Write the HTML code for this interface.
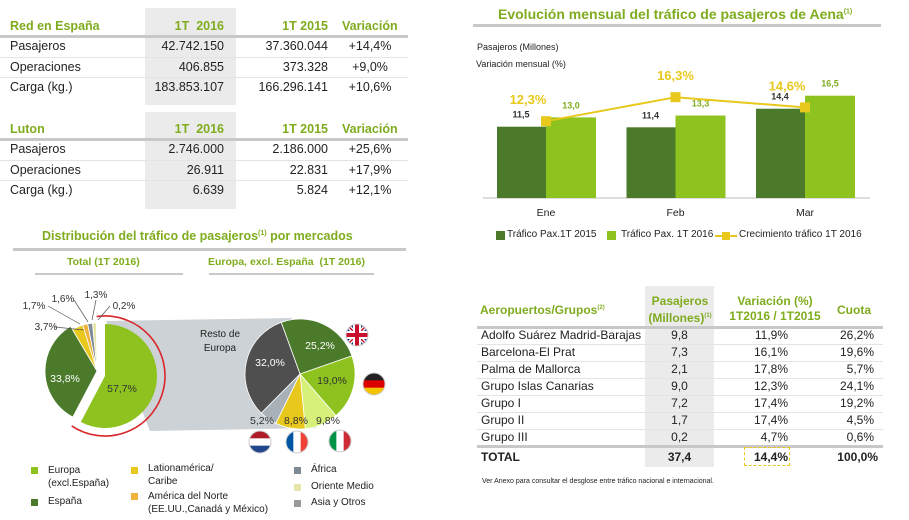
<!DOCTYPE html>
<html><head><meta charset="utf-8"><style>
body{margin:0;width:909px;height:520px;background:#fff;font-family:"Liberation Sans",sans-serif;position:relative;overflow:hidden;color:#222}
.a{position:absolute;white-space:nowrap}
.g{color:#7fac1e;font-weight:bold}
.band{position:absolute;background:#ebebeb}
.hl{position:absolute;height:3px;background:#c8c8c8}
.rl{position:absolute;height:1px;background:#e4e4e4}
.t{font-size:12.5px}
.r{text-align:right}
.c{text-align:center}
</style></head><body>
<div class="band" style="left:145px;top:8px;width:91px;height:97px"></div>
<div class="band" style="left:145px;top:112px;width:91px;height:97px"></div>
<div>
<div class="a g t" style="left:10px;top:19px">Red en España</div>
<div class="a g t r" style="left:150px;top:19px;width:74px">1T&nbsp; 2016</div>
<div class="a g t r" style="left:250px;top:19px;width:78px">1T 2015</div>
<div class="a g t" style="left:342px;top:19px">Variación</div>
<div class="hl" style="left:0;top:35px;width:408px"></div>
<div class="a t" style="left:10px;top:39px">Pasajeros</div><div class="a t r" style="left:130px;top:39px;width:94px">42.742.150</div><div class="a t r" style="left:230px;top:39px;width:98px">37.360.044</div><div class="a t c" style="left:340px;top:39px;width:60px">+14,4%</div>
<div class="rl" style="left:0;top:57px;width:408px"></div>
<div class="a t" style="left:10px;top:60px">Operaciones</div><div class="a t r" style="left:130px;top:60px;width:94px">406.855</div><div class="a t r" style="left:230px;top:60px;width:98px">373.328</div><div class="a t c" style="left:340px;top:60px;width:60px">+9,0%</div>
<div class="rl" style="left:0;top:77px;width:408px"></div>
<div class="a t" style="left:10px;top:80px">Carga (kg.)</div><div class="a t r" style="left:130px;top:80px;width:94px">183.853.107</div><div class="a t r" style="left:230px;top:80px;width:98px">166.296.141</div><div class="a t c" style="left:340px;top:80px;width:60px">+10,6%</div>
</div>
<div>
<div class="a g t" style="left:10px;top:122px">Luton</div>
<div class="a g t r" style="left:150px;top:122px;width:74px">1T&nbsp; 2016</div>
<div class="a g t r" style="left:250px;top:122px;width:78px">1T 2015</div>
<div class="a g t" style="left:342px;top:122px">Variación</div>
<div class="hl" style="left:0;top:138px;width:408px"></div>
<div class="a t" style="left:10px;top:142px">Pasajeros</div><div class="a t r" style="left:130px;top:142px;width:94px">2.746.000</div><div class="a t r" style="left:230px;top:142px;width:98px">2.186.000</div><div class="a t c" style="left:340px;top:142px;width:60px">+25,6%</div>
<div class="rl" style="left:0;top:160px;width:408px"></div>
<div class="a t" style="left:10px;top:163px">Operaciones</div><div class="a t r" style="left:130px;top:163px;width:94px">26.911</div><div class="a t r" style="left:230px;top:163px;width:98px">22.831</div><div class="a t c" style="left:340px;top:163px;width:60px">+17,9%</div>
<div class="rl" style="left:0;top:180px;width:408px"></div>
<div class="a t" style="left:10px;top:183px">Carga (kg.)</div><div class="a t r" style="left:130px;top:183px;width:94px">6.639</div><div class="a t r" style="left:230px;top:183px;width:98px">5.824</div><div class="a t c" style="left:340px;top:183px;width:60px">+12,1%</div>
</div>

<div class="a g" style="left:498px;top:6px;font-size:14px">Evolución mensual del tráfico de pasajeros de Aena<sup style="font-size:7px">(1)</sup></div>
<div class="hl" style="left:473px;top:24px;width:408px"></div>
<div class="a" style="left:477px;top:42px;font-size:9px">Pasajeros (Millones)</div>
<div class="a" style="left:476px;top:59px;font-size:9px">Variación mensual (%)</div>
<svg id="bar" style="position:absolute;left:0;top:0" width="909" height="260"></svg>
<div>
<div class="a" style="left:496px;top:231px;width:9px;height:9px;background:#4a7a2a"></div>
<div class="a" style="left:507px;top:229px;font-size:10px">Tráfico Pax.1T 2015</div>
<div class="a" style="left:607px;top:231px;width:9px;height:9px;background:#8dc21f"></div>
<div class="a" style="left:621px;top:229px;font-size:10px">Tráfico Pax. 1T 2016</div>
<div class="a" style="left:715px;top:235px;width:22px;height:2px;background:#e8c81c"></div>
<div class="a" style="left:722px;top:232px;width:8px;height:8px;background:#e8c81c"></div>
<div class="a" style="left:739px;top:229px;font-size:10px">Crecimiento tráfico 1T 2016</div>
</div>
<script>
const months=["Ene","Feb","Mar"];
const pax2015=[11.5,11.4,14.4];
const pax2016=[13.0,13.3,16.5];
const growth=[12.3,16.3,14.6];
const growthLabels=["12,3%","16,3%","14,6%"];
const ns="http://www.w3.org/2000/svg";
const svg=document.getElementById('bar');
const base=198,ppu=6.2;
const yv=v=>base-v*ppu;
const yg=v=>195-6*v;
const cx=i=>546+i*129.5;
function mk(t,a){const e=document.createElementNS(ns,t);for(const k in a)e.setAttribute(k,a[k]);svg.appendChild(e);return e;}
function fmt(v){return v.toFixed(1).replace('.',',');}
mk('line',{x1:483,y1:base,x2:870,y2:base,stroke:'#bbb','stroke-width':1});
months.forEach((m,i)=>{
 let r=mk('rect',{x:cx(i)-49,y:yv(pax2015[i]),width:49,height:pax2015[i]*ppu,fill:'#4a7a2a'});
 
 
 r=mk('rect',{x:cx(i),y:yv(pax2016[i]),width:50,height:pax2016[i]*ppu,fill:'#8dc21f'});
 
 
 let t=mk('text',{x:cx(i)-25,y:yv(pax2015[i])-9,'font-size':9,'font-weight':'bold','text-anchor':'middle',fill:'#333','font-family':'Liberation Sans'});t.textContent=fmt(pax2015[i]);
 t=mk('text',{x:cx(i)+25,y:yv(pax2016[i])-9,'font-size':9,'font-weight':'bold','text-anchor':'middle',fill:'#7fac1e','font-family':'Liberation Sans'});t.textContent=fmt(pax2016[i]);
 t=mk('text',{x:cx(i),y:216,'font-size':10.5,'text-anchor':'middle',fill:'#222','font-family':'Liberation Sans'});t.textContent=m;
 
 
});
let pts=growth.map((v,i)=>cx(i)+','+yg(v)).join(' ');
let pl=mk('polyline',{points:pts,fill:'none',stroke:'#e8c81c','stroke-width':2});


growth.forEach((v,i)=>{
 let s=mk('rect',{x:cx(i)-5,y:yg(v)-5,width:10,height:10,fill:'#e8c81c'});
 
 
 let t=mk('text',{x:cx(i)-(i==1?0:18),y:yg(v)-17,'font-size':13,'font-weight':'bold','text-anchor':'middle',fill:'#e8c81c','font-family':'Liberation Sans'});t.textContent=growthLabels[i];
});
</script>

<div class="a g" style="left:42px;top:229px;font-size:12.5px">Distribución del tráfico de pasajeros<sup style="font-size:7px">(1)</sup> por mercados</div>
<div class="hl" style="left:13px;top:248px;width:393px"></div>
<div class="a g" style="left:67px;top:256px;font-size:10.5px">Total (1T 2016)</div>
<div class="hl" style="left:35px;top:273px;width:148px;height:2px"></div>
<div class="a g" style="left:208px;top:256px;font-size:10.5px">Europa, excl. España&nbsp; (1T 2016)</div>
<div class="hl" style="left:209px;top:273px;width:165px;height:2px"></div>
<svg id="pies" style="position:absolute;left:0;top:0" width="909" height="520"></svg>
<script>
const totalLabels=["Europa","España","Latinoamérica","América del Norte","África","Oriente Medio","Asia y Otros"];
const totalShares=[57.7,33.8,3.7,1.7,1.6,1.3,0.2];
const totalColors=["#8dc21f","#4a7a2a","#e8c81c","#f0b43c","#7d8a96","#e6e6a8","#9a9a9a"];
const euLabels=["Reino Unido","Alemania","Italia","Francia","Holanda","Resto de Europa"];
const euShares=[25.2,19.0,9.8,8.8,5.2,32.0];
const euColors=["#4a7a2a","#8dc21f","#d6f07a","#e8c81c","#a8b0b8","#4f4f4f"];
const ps=document.getElementById('pies');
function pm(t,a){const e=document.createElementNS("http://www.w3.org/2000/svg",t);for(const k in a)e.setAttribute(k,a[k]);ps.appendChild(e);return e;}
function pt(cx,cy,r,deg){const a=(deg-90)*Math.PI/180;return [cx+r*Math.cos(a),cy+r*Math.sin(a)];}
function arc(cx,cy,r,a0,a1){const p0=pt(cx,cy,r,a0),p1=pt(cx,cy,r,a1);return `M${cx},${cy}L${p0[0]},${p0[1]}A${r},${r} 0 ${a1-a0>180?1:0} 1 ${p1[0]},${p1[1]}Z`;}
pm('polygon',{points:'106,321 292,318 316,428 150,431',fill:'#cdd2d6'});
let a=0;
totalShares.forEach((s,i)=>{
 const a1=a+s*3.6;
 let off=i==0?[8,5]:[0,0];
 let r=i>=2?48:52;
 let p=pm('path',{d:arc(97+off[0],371+off[1],r,a,a1),fill:totalColors[i],stroke:'#fff','stroke-width':i==0?0:0.8});
 
 
 a=a1;
});
{const e=totalShares[0]*3.6;const p0=pt(105,376,60,-8),p1=pt(105,376,60,e+6);
pm('path',{d:`M${p0[0]},${p0[1]}A60,60 0 1 1 ${p1[0]},${p1[1]}`,fill:'none',stroke:'#d9262a','stroke-width':1.6});}
a=-20;
euShares.forEach((s,i)=>{
 const a1=a+s*3.6;
 let p=pm('path',{d:arc(300,374,55,a,a1),fill:euColors[i],stroke:'#fff','stroke-width':0.8});
 
 
 a=a1;
});
function tx(x,y,s,c,sz){let t=pm('text',{x:x,y:y,'font-size':sz||10,fill:c||'#333','font-family':'Liberation Sans','text-anchor':'middle'});t.textContent=s;}
tx(122,392,'57,7%','#333',10.5);tx(65,382,'33,8%','#fff',10.5);
tx(320,349,'25,2%','#fff',10.5);tx(332,384,'19,0%','#333',10.5);tx(270,366,'32,0%','#fff',10.5);
tx(262,424,'5,2%','#333',10.5);tx(296,424,'8,8%','#333',10.5);tx(328,424,'9,8%','#333',10.5);
tx(46,330,'3,7%');tx(34,309,'1,7%');tx(63,302,'1,6%');tx(96,298,'1,3%');tx(124,309,'0,2%');
tx(220,337,'Resto de','#222',10);tx(220,351,'Europa','#222',10);
[[55,327,84,330],[48,306,80,324],[74,300,88,322],[96,300,92,320],[110,306,98,320]].forEach(l=>pm('polyline',{points:`${l[0]},${l[1]} ${l[2]},${l[3]}`,stroke:'#555','stroke-width':0.7,fill:'none'}));
pm('defs',{}).innerHTML='<clipPath id="c1"><circle cx="357" cy="335" r="11"/></clipPath>';
pm('g',{'clip-path':'url(#c1)'}).innerHTML='<rect x="346" y="324" width="22" height="22" fill="#1f3d8c"/><path d="M346 324L368 346M368 324L346 346" stroke="#fff" stroke-width="4"/><path d="M346 324L368 346M368 324L346 346" stroke="#c8102e" stroke-width="1.5"/><rect x="346" y="331" width="22" height="8" fill="#fff"/><rect x="353" y="324" width="8" height="22" fill="#fff"/><rect x="346" y="333" width="22" height="4" fill="#c8102e"/><rect x="355" y="324" width="4" height="22" fill="#c8102e"/>';
const flags=[[374,384,['#222','#d00','#f5c400'],'h'],[260,442,['#ae1c28','#fff','#21468b'],'h'],[297,442,['#0055a4','#fff','#ef4135'],'v'],[340,441,['#009246','#fff','#ce2b37'],'v']];
flags.forEach((f,k)=>{const [x,y,c,o]=f;
 let d=pm('defs',{});d.innerHTML=`<clipPath id="f${k}"><circle cx="${x}" cy="${y}" r="11"/></clipPath>`;
 let g=pm('g',{'clip-path':`url(#f${k})`});
 g.innerHTML=c.map((col,j)=>o=='h'?`<rect x="${x-11}" y="${y-11+j*22/3}" width="22" height="${22/3+0.5}" fill="${col}"/>`:`<rect x="${x-11+j*22/3}" y="${y-11}" width="${22/3+0.5}" height="22" fill="${col}"/>`).join('');
 pm('circle',{cx:x,cy:y,r:11,fill:'none',stroke:'#ccc','stroke-width':1});
});
pm('circle',{cx:357,cy:335,r:11,fill:'none',stroke:'#ccc','stroke-width':1});
</script>
<div style="font-size:10px">
<div class="a" style="left:31px;top:467px;width:7px;height:7px;background:#8dc21f"></div><div class="a" style="left:48px;top:464px;line-height:13px">Europa<br>(excl.España)</div>
<div class="a" style="left:31px;top:499px;width:7px;height:7px;background:#4a7a2a"></div><div class="a" style="left:48px;top:496px">España</div>
<div class="a" style="left:131px;top:467px;width:7px;height:7px;background:#e8c81c"></div><div class="a" style="left:148px;top:462px;line-height:13px">Lationamérica/<br>Caribe</div>
<div class="a" style="left:131px;top:493px;width:7px;height:7px;background:#f0b43c"></div><div class="a" style="left:148px;top:490px;line-height:13px">América del Norte<br>(EE.UU.,Canadá y México)</div>
<div class="a" style="left:294px;top:467px;width:7px;height:7px;background:#7d8a96"></div><div class="a" style="left:311px;top:464px">África</div>
<div class="a" style="left:294px;top:484px;width:7px;height:7px;background:#e6e6a8"></div><div class="a" style="left:311px;top:481px">Oriente Medio</div>
<div class="a" style="left:294px;top:500px;width:7px;height:7px;background:#9a9a9a"></div><div class="a" style="left:311px;top:497px">Asia y Otros</div>
</div>

<div class="band" style="left:645px;top:286px;width:69px;height:181px"></div>
<div style="font-size:12px">
<div class="a g" style="left:480px;top:303px">Aeropuertos/Grupos<sup style="font-size:6px">(2)</sup></div>
<div class="a g c" style="left:637px;top:294px;width:86px;line-height:15px">Pasajeros<br>(Millones)<sup style="font-size:6px">(1)</sup></div>
<div class="a g c" style="left:715px;top:294px;width:120px;line-height:15px">Variación (%)<br>1T2016 / 1T2015</div>
<div class="a g" style="left:837px;top:303px">Cuota</div>
<div class="hl" style="left:477px;top:326px;width:406px"></div>
</div>
<div id="ap"></div>
<script>
const apNames=["Adolfo Suárez Madrid-Barajas","Barcelona-El Prat","Palma de Mallorca","Grupo Islas Canarias","Grupo I","Grupo II","Grupo III"];
const apPax=["9,8","7,3","2,1","9,0","7,2","1,7","0,2"];
const apVar=["11,9%","16,1%","17,8%","12,3%","17,4%","17,4%","4,7%"];
const apShare=["26,2%","19,6%","5,7%","24,1%","19,2%","4,5%","0,6%"];
let h='';
apNames.forEach((n,i)=>{const y=328+i*17;
 h+=`<div class="a" style="left:481px;top:${y}px;font-size:12px">${n}</div><div class="a c" style="left:645px;top:${y}px;width:69px;font-size:12px">${apPax[i]}</div><div class="a r" style="left:720px;top:${y}px;width:68px;font-size:12px">${apVar[i]}</div><div class="a r" style="left:820px;top:${y}px;width:54px;font-size:12px">${apShare[i]}</div>`;
 if(i<6)h+=`<div class="rl" style="left:477px;top:${y+16}px;width:406px"></div>`;});
h+=`<div class="hl" style="left:477px;top:445px;width:406px"></div>`;
h+=`<div class="a" style="left:481px;top:450px;font-size:12px;font-weight:bold">TOTAL</div><div class="a c" style="left:645px;top:450px;width:69px;font-size:12px;font-weight:bold">37,4</div><div class="a r" style="left:720px;top:450px;width:68px;font-size:12px;font-weight:bold">14,4%</div><div class="a r" style="left:820px;top:450px;width:58px;font-size:12px;font-weight:bold">100,0%</div>`;
h+=`<div class="a" style="left:744px;top:447px;width:46px;height:19px;border:1.5px dashed #e8c81c;box-sizing:border-box"></div>`;
h+=`<div class="a" style="left:482px;top:478px;font-size:7px">Ver Anexo para consultar el desglose entre tráfico nacional e internacional.</div>`;
document.getElementById('ap').innerHTML=h;
</script>
</body></html>
